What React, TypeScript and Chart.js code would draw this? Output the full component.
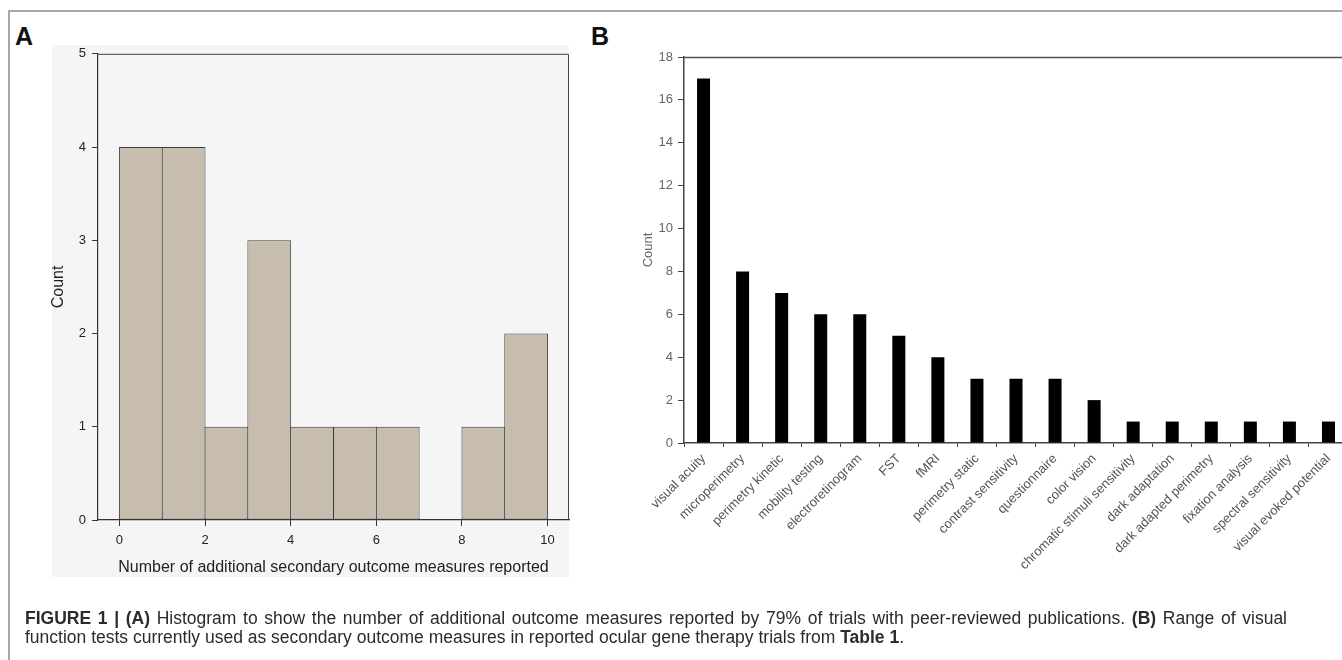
import React, { useEffect, useRef } from "react";
import { Chart, registerables } from "chart.js";

Chart.register(...registerables);

// ---------- Panel A data (histogram) ----------
const binStarts = [0, 1, 2, 3, 4, 5, 6, 7, 8, 9];
const binCounts = [4, 4, 1, 3, 1, 1, 1, 0, 1, 2];
const histXTicks = [0, 2, 4, 6, 8, 10];
const histYTicks = [0, 1, 2, 3, 4, 5];
const histXTitle = "Number of additional secondary outcome measures reported";
const histYTitle = "Count";

// ---------- Panel B data (bar chart) ----------
const testNames = [
  "visual acuity",
  "microperimetry",
  "perimetry kinetic",
  "mobility testing",
  "electroretinogram",
  "FST",
  "fMRI",
  "perimetry static",
  "contrast sensitivity",
  "questionnaire",
  "color vision",
  "chromatic stimuli sensitivity",
  "dark adaptation",
  "dark adapted perimetry",
  "fixation analysis",
  "spectral sensitivity",
  "visual evoked potential",
];
const testCounts = [17, 8, 7, 6, 6, 5, 4, 3, 3, 3, 2, 1, 1, 1, 1, 1, 1];
const countTicks = [0, 2, 4, 6, 8, 10, 12, 14, 16, 18];
const countTitle = "Count";

const FONT = '"Liberation Sans", Arial, Helvetica, sans-serif';

function frameLines(id: string, color: string, width: number) {
  return {
    id,
    afterDraw(chart: any) {
      const { ctx, chartArea } = chart;
      const { left, right, top, bottom } = chartArea;
      ctx.save();
      ctx.strokeStyle = color;
      ctx.lineWidth = width;
      ctx.beginPath();
      ctx.moveTo(left, top + 0.5);
      ctx.lineTo(right - 0.5, top + 0.5);
      ctx.lineTo(right - 0.5, bottom);
      ctx.stroke();
      ctx.restore();
    },
  };
}

function HistogramA() {
  const ref = useRef<HTMLCanvasElement | null>(null);
  useEffect(() => {
    if (!ref.current) return;
    const chart = new Chart(ref.current, {
      type: "bar",
      data: {
        datasets: [
          {
            data: binStarts.map((s, i) => ({ x: s + 0.5, y: binCounts[i] })),
            backgroundColor: "#c6bdae",
            borderColor: "#3d3d3d",
            borderWidth: 1,
            borderSkipped: false,
            barPercentage: 1.023,
            categoryPercentage: 1,
          } as any,
        ],
      },
      options: {
        animation: false,
        responsive: false,
        maintainAspectRatio: false,
        layout: { padding: { left: 0, top: 10, right: 11, bottom: 0 } },
        plugins: { legend: { display: false }, tooltip: { enabled: false } },
        scales: {
          x: {
            type: "linear",
            min: -0.5,
            max: 10.5,
            offset: false,
            afterBuildTicks: (s: any) => {
              s.ticks = histXTicks.map((v) => ({ value: v }));
            },
            afterFit: (s: any) => {
              s.height = 65;
            },
            grid: {
              offset: false,
              drawOnChartArea: false,
              drawTicks: true,
              tickLength: 6,
              tickColor: "#333",
              tickWidth: 1,
            },
            border: { color: "#333", width: 1.2 },
            ticks: {
              color: "#222",
              font: { family: FONT, size: 13 },
              padding: 7,
              maxRotation: 0,
              autoSkip: false,
            },
            title: {
              display: true,
              text: histXTitle,
              color: "#222",
              font: { family: FONT, size: 16 },
              padding: { top: 0, bottom: 7.4 },
            },
          },
          y: {
            type: "linear",
            min: 0,
            max: 5,
            afterBuildTicks: (s: any) => {
              s.ticks = histYTicks.map((v) => ({ value: v }));
            },
            afterFit: (s: any) => {
              s.width = 58;
            },
            grid: {
              drawOnChartArea: false,
              drawTicks: true,
              tickLength: 6,
              tickColor: "#333",
              tickWidth: 1,
            },
            border: { color: "#333", width: 1.2 },
            ticks: {
              color: "#222",
              font: { family: FONT, size: 13 },
              padding: 6,
            },
            title: {
              display: true,
              text: histYTitle,
              color: "#222",
              font: { family: FONT, size: 16 },
              padding: { top: 9.4, bottom: 0 },
            },
          },
        },
      },
      plugins: [frameLines("frameA", "#444", 1)],
    } as any);
    return () => chart.destroy();
  }, []);
  return (
    <canvas
      ref={ref}
      width={540}
      height={545}
      style={{ position: "absolute", left: 40, top: 40, width: 540, height: 545 }}
    />
  );
}

function BarsB() {
  const ref = useRef<HTMLCanvasElement | null>(null);
  useEffect(() => {
    if (!ref.current) return;
    const chart = new Chart(ref.current, {
      type: "bar",
      data: {
        labels: testNames,
        datasets: [
          {
            data: testCounts,
            backgroundColor: "#000000",
            borderWidth: 0,
            barPercentage: 0.333,
            categoryPercentage: 1,
          },
        ],
      },
      options: {
        animation: false,
        responsive: false,
        maintainAspectRatio: false,
        layout: { padding: { left: 0, top: 17, right: 12, bottom: 0 } },
        plugins: { legend: { display: false }, tooltip: { enabled: false } },
        scales: {
          x: {
            type: "category",
            afterFit: (s: any) => {
              s.height = 177;
            },
            grid: {
              offset: true,
              drawOnChartArea: false,
              drawTicks: true,
              tickLength: 4,
              tickColor: "#444",
              tickWidth: 1,
            },
            border: { color: "#444", width: 1.5 },
            ticks: {
              color: "#555",
              font: { family: FONT, size: 13 },
              padding: 4,
              minRotation: 45,
              maxRotation: 45,
              autoSkip: false,
            },
          },
          y: {
            type: "linear",
            min: 0,
            max: 18,
            afterBuildTicks: (s: any) => {
              s.ticks = countTicks.map((v) => ({ value: v }));
            },
            afterFit: (s: any) => {
              s.width = 84;
            },
            grid: {
              drawOnChartArea: false,
              drawTicks: true,
              tickLength: 6,
              tickColor: "#444",
              tickWidth: 1,
            },
            border: { color: "#444", width: 1.5 },
            ticks: {
              color: "#666",
              font: { family: FONT, size: 13 },
              padding: 5,
            },
            title: {
              display: true,
              text: countTitle,
              color: "#666",
              font: { family: FONT, size: 13 },
              padding: { top: 40.2, bottom: 0 },
            },
          },
        },
      },
      plugins: [frameLines("frameB", "#555", 1.5)],
    } as any);
    return () => chart.destroy();
  }, []);
  return (
    <div
      style={{
        position: "absolute",
        left: 600,
        top: 40,
        width: 742,
        height: 580,
        overflow: "hidden",
      }}
    >
      <canvas
        ref={ref}
        width={760}
        height={580}
        style={{ position: "absolute", left: 0, top: 0, width: 760, height: 580 }}
      />
    </div>
  );
}

export default function App() {
  return (
    <div
      style={{
        position: "absolute",
        left: 0,
        top: 0,
        width: 1342,
        height: 660,
        overflow: "hidden",
        background: "#ffffff",
        fontFamily: FONT,
      }}
    >
      {/* outer figure frame */}
      <div
        style={{
          position: "absolute",
          left: 8,
          top: 10,
          width: 1400,
          height: 700,
          borderTop: "2px solid #a8a8a8",
          borderLeft: "2px solid #a8a8a8",
        }}
      />
      {/* panel A background */}
      <div
        style={{
          position: "absolute",
          left: 52,
          top: 45,
          width: 517,
          height: 532,
          background: "#f5f5f5",
        }}
      />
      <div
        style={{
          position: "absolute",
          left: 15,
          top: 23.7,
          fontSize: 25,
          lineHeight: "25px",
          fontWeight: "bold",
          color: "#111",
        }}
      >
        A
      </div>
      <div
        style={{
          position: "absolute",
          left: 591,
          top: 23.7,
          fontSize: 25,
          lineHeight: "25px",
          fontWeight: "bold",
          color: "#111",
        }}
      >
        B
      </div>
      <HistogramA />
      <BarsB />
      <div
        style={{
          position: "absolute",
          left: 25,
          top: 608.5,
          width: 1262,
          fontSize: 17.5,
          lineHeight: "19px",
          color: "#2b2b2b",
          textAlign: "justify",
        }}
      >
        <b>FIGURE 1 | (A)</b> Histogram to show the number of additional outcome measures
        reported by 79% of trials with peer-reviewed publications. <b>(B)</b> Range of visual
        function tests currently used as secondary outcome measures in reported ocular gene
        therapy trials from <b>Table 1</b>.
      </div>
    </div>
  );
}
